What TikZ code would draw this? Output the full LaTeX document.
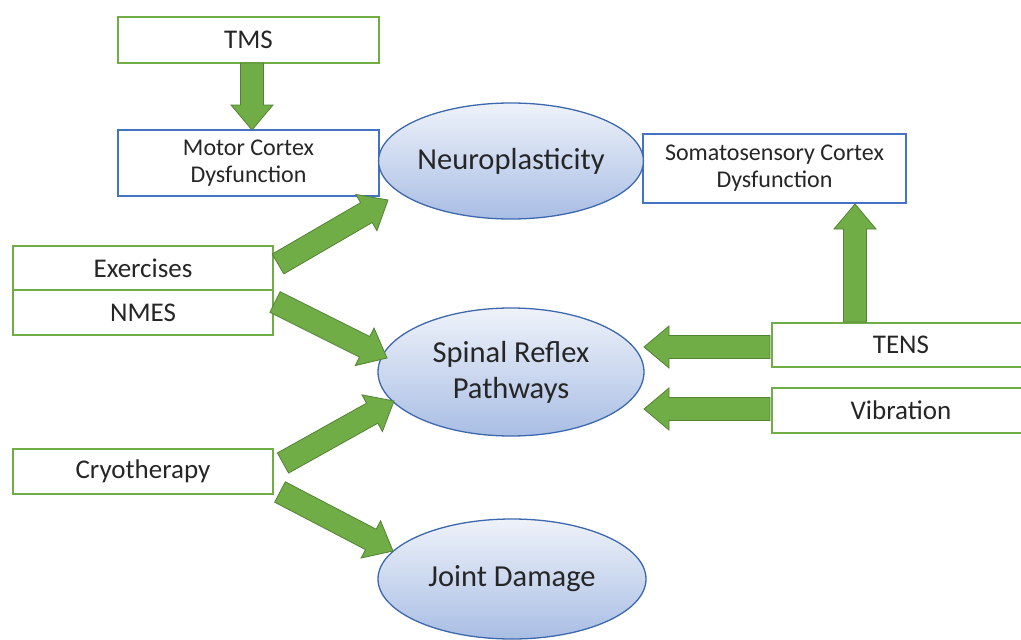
\documentclass[tikz,border=0pt]{standalone}
\usepackage{fontspec}
\setmainfont{Carlito}
\usetikzlibrary{calc,shapes.geometric}
\definecolor{boxgreen}{HTML}{70AD47}
\definecolor{boxblue}{HTML}{4472C4}
\definecolor{arrfill}{HTML}{70AD47}
\definecolor{arrline}{HTML}{548235}
\definecolor{elltop}{HTML}{EEF2FA}
\definecolor{ellbot}{HTML}{A9BEE4}
\definecolor{ellline}{HTML}{3E68AE}
\definecolor{txt}{HTML}{262626}
\tikzset{
  gbox/.style={draw=boxgreen, line width=1.6pt, fill=white, text=txt, inner sep=0pt, font=\fontsize{27}{32}\selectfont},
  bbox/.style={draw=boxblue, line width=1.4pt, fill=white, text=txt, inner sep=0pt, font=\fontsize{24}{27}\selectfont, align=center},
  ell/.style={ellipse, draw=ellline, line width=1.3pt, top color=elltop, bottom color=ellbot, inner sep=0pt, text=txt, font=\fontsize{30.5}{36}\selectfont, align=center},
  blockarrow/.style={fill=arrfill, draw=arrline, line width=0.8pt, line join=miter}
}
\newcommand\blockarr[3]{%
  \coordinate (#3h) at ($(#2)!25pt!(#1)$);
  \draw[blockarrow] ($(#1)!11.5pt!90:(#2)$) -- ($(#3h)!11.5pt!90:(#2)$) -- ($(#3h)!21pt!90:(#2)$)
    -- (#2) -- ($(#3h)!21pt!-90:(#2)$) -- ($(#3h)!11.5pt!-90:(#2)$) -- ($(#1)!11.5pt!-90:(#2)$) -- cycle;
}
\begin{document}
\begin{tikzpicture}[x=1pt,y=-1pt]
\useasboundingbox (0,0) rectangle (1021,640);
\fill[white] (0,0) rectangle (1021,640);
\begin{scope}
\clip (0,0) rectangle (1021,640);
% boxes
\node[gbox, minimum width=261, minimum height=46] (tms) at (248.5,40) {TMS};
\node[bbox, minimum width=261, minimum height=66] (motor) at (248.5,163) {Motor Cortex\\Dysfunction};
\node[bbox, minimum width=263, minimum height=69] (somato) at (774.5,168.5) {Somatosensory Cortex\\Dysfunction};
\node[gbox, minimum width=260, minimum height=44] (ex) at (143,268) {Exercises};
\node[gbox, minimum width=260, minimum height=45] (nmes) at (143,312.5) {NMES};
\node[gbox, minimum width=260, minimum height=45] (cryo) at (143,471.5) {Cryotherapy};
\node[gbox, minimum width=258, minimum height=44] (tens) at (901,345) {TENS};
\node[gbox, minimum width=258, minimum height=45] (vib) at (901,410.5) {Vibration};
% ellipses
\node[ell, minimum width=262, minimum height=116] (neuro) at (511,161) {Neuroplasticity};
\node[ell, minimum width=266, minimum height=128] (spinal) at (511,372) {Spinal Reflex\\Pathways};
\node[ell, minimum width=268, minimum height=120] (joint) at (512,579) {Joint Damage};
% arrow end points
\coordinate (a1s) at (252,63);  \coordinate (a1e) at (252,130);
\coordinate (a2s) at (278,264); \coordinate (a2e) at (388,200);
\coordinate (a3s) at (275,302); \coordinate (a3e) at (387,358);
\coordinate (a4s) at (283,463); \coordinate (a4e) at (394,401);
\coordinate (a5s) at (280,492); \coordinate (a5e) at (393,551);
\coordinate (a6s) at (770,347); \coordinate (a6e) at (644,347);
\coordinate (a7s) at (770,409); \coordinate (a7e) at (644,409);
\coordinate (a8s) at (855,322); \coordinate (a8e) at (855,204);
\blockarr{a1s}{a1e}{a1}
\blockarr{a2s}{a2e}{a2}
\blockarr{a3s}{a3e}{a3}
\blockarr{a4s}{a4e}{a4}
\blockarr{a5s}{a5e}{a5}
\blockarr{a6s}{a6e}{a6}
\blockarr{a7s}{a7e}{a7}
\blockarr{a8s}{a8e}{a8}
\end{scope}
\end{tikzpicture}
\end{document}
